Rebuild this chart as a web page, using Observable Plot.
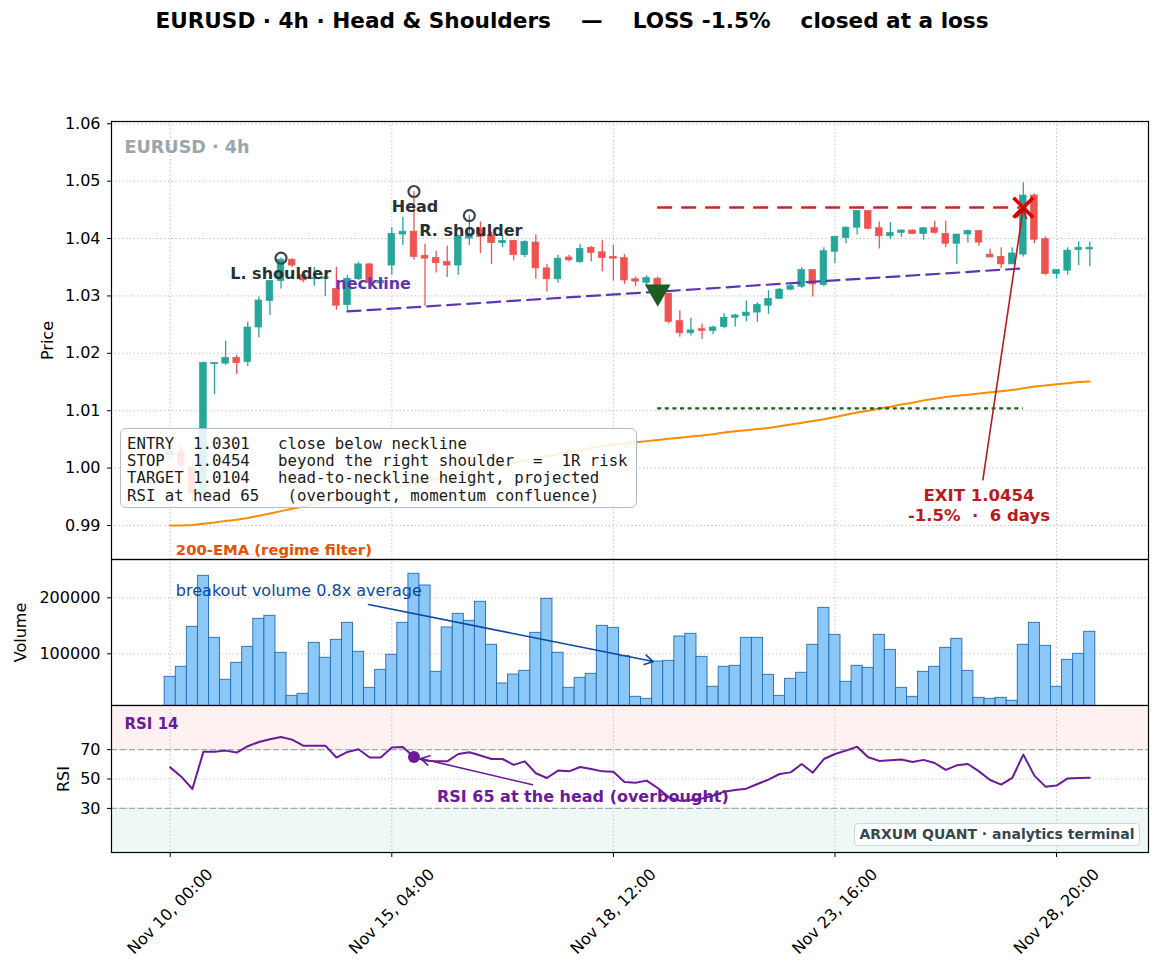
<!DOCTYPE html>
<html>
<head>
<meta charset="utf-8">
<script src="https://cdn.jsdelivr.net/npm/d3@7"></script>
<script src="https://cdn.jsdelivr.net/npm/@observablehq/plot@0.6"></script>
<style>
  body { margin: 0; background: #fff; }
  #chart { position: relative; width: 1160px; height: 971px; font-family: "DejaVu Sans", sans-serif; overflow: hidden; }
  #chart svg { position: absolute; left: 0; }
  .title { position: absolute; left: 0; width: 1144px; top: 8px; line-height: 26px; text-align: center;
           font-weight: bold; font-size: 21.6px; white-space: pre; color: #000; }
  .levels { position: absolute; left: 120px; top: 428px; width: 517px; height: 80px; box-sizing: border-box;
            padding: 6px 0 0 6px; border: 1px solid #b0bec5; border-radius: 6px; background: rgba(255,255,255,0.86);
            font-family: "DejaVu Sans Mono", monospace; font-size: 15.7px; line-height: 17.2px; white-space: pre; color: #1a1a1a; }
  .brand { position: absolute; left: 854px; top: 823px; width: 286px; height: 23px; box-sizing: border-box;
           border: 1px solid #cfd8dc; border-radius: 4px; background: rgba(255,255,255,0.88);
           font-weight: bold; font-size: 14px; line-height: 21px; text-align: center; color: #37474f; white-space: pre; }
</style>
</head>
<body>
<div id="chart"></div>
<script>
// ---- EURUSD 4h bars (index = bar number) ----
const opens  = [1.0022,1.0028,1.0000,0.9956,1.0181,1.0182,1.0192,1.0185,1.0245,1.0291,1.0326,1.0363,1.0336,1.0329,1.0330,1.0312,1.0284,1.0329,1.0355,1.0322,
                1.0353,1.0407,1.0412,1.0370,1.0366,1.0359,1.0353,1.0400,1.0417,1.0406,1.0392,1.0396,1.0371,1.0393,1.0348,1.0329,1.0367,1.0359,1.0384,1.0376,
                1.0368,1.0366,1.0329,1.0323,1.0330,1.0304,1.0256,1.0235,1.0242,1.0239,1.0246,1.0262,1.0265,1.0271,1.0283,1.0295,1.0311,1.0316,1.0345,1.0319,
                1.0377,1.0401,1.0419,1.0448,1.0418,1.0404,1.0410,1.0414,1.0408,1.0418,1.0408,1.0391,1.0407,1.0413,1.0372,1.0368,1.0355,1.0372,1.0475,1.0399,
                1.0338,1.0344,1.0380,1.0381];
const highs  = [1.0030,1.0039,1.0010,1.0185,1.0183,1.0221,1.0196,1.0254,1.0298,1.0327,1.0366,1.0365,1.0338,1.0350,1.0333,1.0350,1.0336,1.0359,1.0357,1.0330,
                1.0419,1.0437,1.0482,1.0390,1.0378,1.0387,1.0406,1.0440,1.0429,1.0411,1.0406,1.0396,1.0396,1.0406,1.0355,1.0371,1.0371,1.0390,1.0386,1.0396,
                1.0388,1.0372,1.0333,1.0335,1.0333,1.0304,1.0274,1.0261,1.0251,1.0247,1.0269,1.0268,1.0291,1.0288,1.0309,1.0313,1.0322,1.0349,1.0345,1.0384,
                1.0403,1.0420,1.0449,1.0449,1.0429,1.0428,1.0415,1.0415,1.0419,1.0430,1.0430,1.0407,1.0415,1.0414,1.0382,1.0384,1.0384,1.0497,1.0478,1.0403,
                1.0345,1.0384,1.0394,1.0394];
const lows   = [1.0015,1.0000,0.9944,0.9950,1.0128,1.0179,1.0163,1.0177,1.0227,1.0266,1.0312,1.0349,1.0323,1.0317,1.0299,1.0275,1.0274,1.0327,1.0319,1.0318,
                1.0336,1.0388,1.0362,1.0282,1.0340,1.0332,1.0336,1.0388,1.0374,1.0355,1.0384,1.0361,1.0367,1.0329,1.0307,1.0322,1.0359,1.0357,1.0359,1.0342,
                1.0326,1.0320,1.0316,1.0316,1.0298,1.0251,1.0228,1.0230,1.0224,1.0233,1.0243,1.0246,1.0255,1.0254,1.0268,1.0294,1.0309,1.0313,1.0298,1.0316,
                1.0356,1.0391,1.0406,1.0415,1.0382,1.0398,1.0402,1.0407,1.0397,1.0408,1.0384,1.0355,1.0392,1.0386,1.0367,1.0348,1.0355,1.0368,1.0391,1.0336,
                1.0329,1.0336,1.0353,1.0351];
const closes = [1.0026,1.0005,0.9956,1.0183,1.0183,1.0192,1.0183,1.0245,1.0292,1.0326,1.0363,1.0353,1.0327,1.0331,1.0332,1.0283,1.0330,1.0355,1.0322,1.0326,
                1.0408,1.0412,1.0368,1.0365,1.0357,1.0353,1.0404,1.0407,1.0403,1.0392,1.0396,1.0371,1.0394,1.0348,1.0329,1.0365,1.0362,1.0382,1.0375,1.0366,
                1.0365,1.0327,1.0325,1.0331,1.0301,1.0255,1.0235,1.0240,1.0239,1.0245,1.0262,1.0266,1.0271,1.0284,1.0295,1.0311,1.0317,1.0345,1.0320,1.0378,
                1.0403,1.0419,1.0448,1.0417,1.0404,1.0410,1.0414,1.0408,1.0418,1.0410,1.0391,1.0407,1.0413,1.0393,1.0367,1.0355,1.0374,1.0475,1.0398,1.0338,
                1.0345,1.0379,1.0384,1.0384];
const volumes = [58900,76800,148200,239300,128600,53600,83900,112500,162500,167900,101800,25000,28600,119600,92900,125000,155400,103600,39300,71400,
                 98200,155400,242900,222000,67900,147000,171400,158900,192900,116100,47000,63000,69600,137500,198200,101800,39300,57100,64300,150000,
                 146400,95700,23200,19600,86200,87500,130900,135700,94600,41100,76800,78600,128600,128600,62500,25000,55400,66100,116100,182100,
                 133900,50000,78600,75000,133900,107100,39300,23200,67900,76800,110700,126800,69600,21400,19600,21400,16100,116100,155400,114300,
                 41100,89300,100000,139300];
const rsi14 = [57.9,51.6,43.2,68.6,68.6,69.3,68.0,72.3,75.2,77.0,78.6,76.8,72.7,72.7,72.7,64.6,68.4,70.2,64.6,64.6,
               71.4,71.8,65.0,62.5,62.0,62.0,67.0,68.2,66.0,63.6,63.6,59.6,62.0,53.9,50.7,55.7,55.2,58.2,56.8,55.2,
               55.0,48.0,47.5,48.9,43.9,37.5,35.2,35.7,36.8,38.6,41.4,42.5,43.4,46.6,49.6,53.4,54.5,60.2,54.3,63.6,
               67.0,69.3,72.0,64.8,62.3,62.7,63.2,61.6,63.0,60.9,56.2,59.3,60.2,55.2,49.3,46.2,50.7,66.6,52.3,44.8,
               45.5,50.4,50.6,50.8];
const ema200 = [0.9900,0.9900,0.9901,0.9903,0.9905,0.9908,0.9910,0.9913,0.9917,0.9921,0.9925,0.9929,0.9933,0.9937,0.9941,0.9945,0.9949,0.9953,0.9957,0.9961,
                0.9965,0.9969,0.9973,0.9977,0.9981,0.9985,0.9989,0.9993,0.9997,1.0001,1.0005,1.0009,1.0013,1.0017,1.0021,1.0024,1.0028,1.0031,1.0035,1.0038,
                1.0041,1.0043,1.0045,1.0047,1.0049,1.0051,1.0053,1.0055,1.0057,1.0059,1.0062,1.0064,1.0066,1.0068,1.0070,1.0073,1.0076,1.0079,1.0082,1.0085,
                1.0089,1.0093,1.0097,1.0100,1.0104,1.0107,1.0111,1.0114,1.0118,1.0121,1.0124,1.0126,1.0128,1.0130,1.0132,1.0134,1.0136,1.0139,1.0142,1.0144,
                1.0146,1.0148,1.0150,1.0151];

// ---- axis ticks ----
const tickIdx    = [0, 20, 40, 60, 80];
const tickLabels = ["Nov 10, 00:00", "Nov 15, 04:00", "Nov 18, 12:00", "Nov 23, 16:00", "Nov 28, 20:00"];
const priceTicks = [0.99, 1.00, 1.01, 1.02, 1.03, 1.04, 1.05, 1.06];
const volTicks   = [100000, 200000];
const rsiTicks   = [30, 50, 70];

// ---- pattern & trade ----
const pivotIdx    = [10, 22, 27];
const pivotPrice  = [1.0366, 1.0482, 1.0440];
const pivotNames  = ["L. shoulder", "Head", "R. shoulder"];
const necklineIdx   = [16, 77];
const necklinePrice = [1.0273, 1.0348];
const entryIdx = 44, entryPrice = 1.0301;
const stopPrice = 1.0454, targetPrice = 1.0104;
const exitIdx = 77, exitPrice = 1.0454;
const headRsi = 65;
const rsiLevels = [70, 30];

const up = "#26a69a", down = "#ef5350";
const W = 1160, ML = 111, MR = 12;
const xDomain = [-5.3, 88.3];
const grid = {stroke: "#b0b0b0", strokeOpacity: 1, strokeWidth: 0.9, strokeDasharray: "1.2,2.6"};
const baseStyle = (top) => ({position: "absolute", left: "0px", top: top + "px", background: "transparent",
  fontFamily: "DejaVu Sans, sans-serif", fontSize: "16px", color: "#000", overflow: "visible"});

const bars = opens.map((o, i) => ({i, open: o, high: highs[i], low: lows[i], close: closes[i], vol: volumes[i], rsi: rsi14[i], ema: ema200[i]}));
const tone = d => d.close >= d.open ? up : down;
const pivots = pivotIdx.map((i, k) => ({i, p: pivotPrice[k], name: pivotNames[k]}));
const neckline = necklineIdx.map((i, k) => ({i, p: necklinePrice[k]}));
const ticks = tickIdx.map((i, k) => ({i, label: tickLabels[k]}));

const chart = document.getElementById("chart");
const title = document.createElement("div");
title.className = "title";
title.textContent = "EURUSD · 4h · Head & Shoulders    —    LOSS -1.5%    closed at a loss";
chart.append(title);

// ---- price panel ----
const pricePlot = Plot.plot({
  width: W, height: 560, marginTop: 121, marginBottom: 1, marginLeft: ML, marginRight: MR,
  style: baseStyle(0),
  x: {domain: xDomain, axis: null},
  y: {domain: [0.98407, 1.0604], axis: null},
  marks: [
    Plot.gridX(tickIdx, grid),
    Plot.gridY(priceTicks, grid),
    Plot.line(bars, {x: "i", y: "ema", stroke: "#fb8c00", strokeWidth: 2}),
    Plot.ruleY([{x1: entryIdx, x2: exitIdx, y: targetPrice}], {x1: "x1", x2: "x2", y: "y", stroke: "#1b5e20", strokeWidth: 2.4, strokeDasharray: "4,3.6"}),
    Plot.ruleY([{x1: entryIdx, x2: exitIdx, y: stopPrice}], {x1: "x1", x2: "x2", y: "y", stroke: "#c62828", strokeWidth: 2.6, strokeDasharray: "15,9"}),
    Plot.ruleX(bars, {x: "i", y1: "low", y2: "high", stroke: tone, strokeWidth: 1.3}),
    Plot.rect(bars, {x1: d => d.i - 0.3, x2: d => d.i + 0.3, y1: "open", y2: "close", fill: tone, stroke: tone, strokeWidth: 0.7}),
    Plot.line(neckline, {x: "i", y: "p", stroke: "#5e35b1", strokeWidth: 2.2, strokeDasharray: "13,7"}),
    Plot.dot(pivots, {x: "i", y: "p", r: 5.5, stroke: "#37474f", strokeWidth: 2.2, fill: "none"}),
    Plot.text([{i: 5.42, p: 1.03383, t: "L. shoulder"}, {i: 20.0, p: 1.04556, t: "Head"}, {i: 22.47, p: 1.04132, t: "R. shoulder"}],
      {x: "i", y: "p", text: "t", textAnchor: "start", lineAnchor: "middle", fontWeight: "bold", fontSize: 16, fill: "#263238"}),
    Plot.text([{i: 14.9, p: 1.03203}], {x: "i", y: "p", text: () => "neckline", textAnchor: "start", lineAnchor: "middle",
      fontWeight: "bold", fontSize: 16, fill: "#5e35b1"}),
    // downward entry marker, centred on its bounding box
    Plot.dot([{i: entryIdx, p: entryPrice}], {x: "i", y: "p", symbol: "triangle", rotate: 180, r: 8.6, dy: -3.5, fill: "#1b5e20", stroke: "#1b5e20"}),
    Plot.arrow([{x1: 73.35, y1: 0.99796, x2: exitIdx, y2: exitPrice}], {x1: "x1", y1: "y1", x2: "x2", y2: "y2",
      stroke: "#b71c1c", strokeWidth: 1.6, headLength: 9, insetEnd: 2}),
    Plot.dot([{i: exitIdx, p: exitPrice}], {x: "i", y: "p", symbol: "times", r: 9, stroke: "#d50000", strokeWidth: 3.6}),
    Plot.text([{i: 73.0, p: 0.99357}], {x: "i", y: "p", text: () => "EXIT 1.0454\n-1.5%  ·  6 days", textAnchor: "middle",
      lineAnchor: "middle", lineHeight: 1.21, fontWeight: "bold", fontSize: 16.5, fill: "#b71c1c"}),
    Plot.text([{i: 0.51, p: 0.98564}], {x: "i", y: "p", text: () => "200-EMA (regime filter)", textAnchor: "start",
      lineAnchor: "middle", fontWeight: "bold", fontSize: 14.8, fill: "#e65100"}),
    Plot.text(["EURUSD · 4h"], {frameAnchor: "top-left", dx: 13, dy: 26, textAnchor: "start", lineAnchor: "middle",
      fontWeight: "bold", fontSize: 17.6, fill: "#9aa5ad"}),
    Plot.axisY(priceTicks, {tickSize: 4, tickPadding: 7, tickFormat: d3.format(".2f"), label: null}),
    Plot.text(["Price"], {frameAnchor: "left", dx: -64, rotate: -90, textAnchor: "middle", lineAnchor: "middle"}),
    Plot.frame({stroke: "#000", strokeWidth: 1.2})
  ]
});
chart.append(pricePlot);

const levels = document.createElement("div");
levels.className = "levels";
levels.textContent =
  "ENTRY  1.0301   close below neckline\n" +
  "STOP   1.0454   beyond the right shoulder  =  1R risk\n" +
  "TARGET 1.0104   head-to-neckline height, projected\n" +
  "RSI at head 65   (overbought, momentum confluence)";
chart.append(levels);

// ---- volume panel ----
const volPlot = Plot.plot({
  width: W, height: 166, marginTop: 19, marginBottom: 1, marginLeft: ML, marginRight: MR,
  style: baseStyle(540),
  x: {domain: xDomain, axis: null},
  y: {domain: [7700, 268400], axis: null},
  marks: [
    Plot.gridX(tickIdx, grid),
    Plot.gridY(volTicks, grid),
    Plot.rectY(bars, {x1: d => d.i - 0.5, x2: d => d.i + 0.5, y: "vol", fill: "#8cc8f7", stroke: "#1f6db5", strokeWidth: 0.9, clip: true}),
    Plot.arrow([{x1: 17.9, y1: 188000, x2: 43.6, y2: volumes[entryIdx]}], {x1: "x1", y1: "y1", x2: "x2", y2: "y2",
      stroke: "#0d47a1", strokeWidth: 1.6, headLength: 9}),
    Plot.text([{i: 0.51, v: 211600}], {x: "i", y: "v", text: () => "breakout volume 0.8x average", textAnchor: "start",
      lineAnchor: "middle", fontSize: 16, fill: "#0d47a1"}),
    Plot.axisY(volTicks, {tickSize: 4, tickPadding: 7, tickFormat: d => String(d), label: null}),
    Plot.text(["Volume"], {frameAnchor: "left", dx: -91, rotate: -90, textAnchor: "middle", lineAnchor: "middle"}),
    Plot.frame({stroke: "#000", strokeWidth: 1.2})
  ]
});
chart.append(volPlot);

// ---- RSI panel ----
const rsiPlot = Plot.plot({
  width: W, height: 281, marginTop: 15, marginBottom: 119, marginLeft: ML, marginRight: MR,
  style: baseStyle(690),
  x: {domain: xDomain, axis: null},
  y: {domain: [0, 100], axis: null},
  marks: [
    Plot.rect([{y1: 70, y2: 100}], {y1: "y1", y2: "y2", fill: "#ffebee", fillOpacity: 0.75}),
    Plot.rect([{y1: 0, y2: 30}], {y1: "y1", y2: "y2", fill: "#e0f2f1", fillOpacity: 0.55}),
    Plot.gridX(tickIdx, grid),
    Plot.gridY(rsiTicks, grid),
    Plot.ruleY(rsiLevels, {stroke: "#a8a8a8", strokeWidth: 1.3, strokeDasharray: "6,3"}),
    Plot.line(bars, {x: "i", y: "rsi", stroke: "#6a1b9a", strokeWidth: 2}),
    Plot.dot([{i: 22, v: headRsi}], {x: "i", y: "v", r: 6, fill: "#6a1b9a"}),
    Plot.arrow([{x1: 32.7, y1: 46.1, x2: 22, y2: headRsi}], {x1: "x1", y1: "y1", x2: "x2", y2: "y2",
      stroke: "#6a1b9a", strokeWidth: 1.6, headLength: 9, insetEnd: 7}),
    Plot.text([{i: 24.07, v: 38.1}], {x: "i", y: "v", text: () => "RSI 65 at the head (overbought)", textAnchor: "start",
      lineAnchor: "middle", fontWeight: "bold", fontSize: 16, fill: "#6a1b9a"}),
    Plot.text(["RSI 14"], {frameAnchor: "top-left", dx: 13, dy: 19, textAnchor: "start", lineAnchor: "middle",
      fontWeight: "bold", fontSize: 15, fill: "#6a1b9a"}),
    Plot.axisY(rsiTicks, {tickSize: 4, tickPadding: 7, label: null}),
    Plot.axisX(tickIdx, {tickSize: 5, tickFormat: () => "", label: null}),
    Plot.text(ticks, {x: "i", text: "label", frameAnchor: "bottom", dy: 59, rotate: -45, textAnchor: "middle", lineAnchor: "middle"}),
    Plot.text(["RSI"], {frameAnchor: "left", dx: -48, rotate: -90, textAnchor: "middle", lineAnchor: "middle"}),
    Plot.frame({stroke: "#000", strokeWidth: 1.2})
  ]
});
chart.append(rsiPlot);

const brand = document.createElement("div");
brand.className = "brand";
brand.textContent = "ARXUM QUANT · analytics terminal";
chart.append(brand);
</script>
</body>
</html>
